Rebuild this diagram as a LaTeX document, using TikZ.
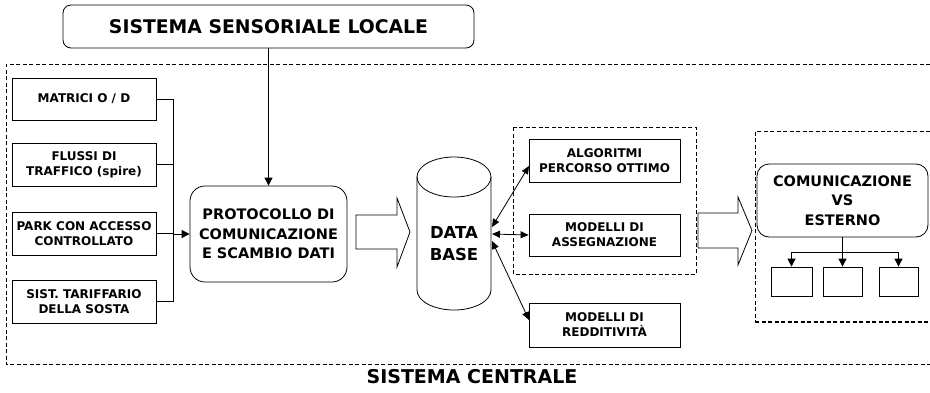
\documentclass[tikz,border=0pt]{standalone}
\usepackage{fontspec}
\setmainfont{DejaVu Sans}
\usetikzlibrary{arrows.meta}
\begin{document}
\begin{tikzpicture}[x=1pt,y=-1pt,
  line width=0.8pt,
  tip/.style={-{Triangle[length=8pt,width=8pt]}},
  dtip/.style={{Triangle[length=8pt,width=7pt]}-{Triangle[length=8pt,width=7pt]}},
  sbox/.style={draw, inner sep=0pt, align=center, font=\fontsize{12}{15}\selectfont\bfseries},
  rbox/.style={draw, rounded corners=13pt, inner sep=0pt, align=center, font=\fontsize{14.5}{19.5}\selectfont\bfseries},
  dashbox/.style={dash pattern=on 4pt off 2.5pt, line width=0.8pt},
  blockarrow/.style={draw, line width=0.8pt, fill=white}]
\useasboundingbox (0,0) rectangle (930,392);

% top box
\node[draw, rounded corners=8pt, minimum width=411pt, minimum height=43pt, inner sep=0pt,
  font=\fontsize{18.8}{22}\selectfont\bfseries] (ssl) at (268.5,26.5) {SISTEMA SENSORIALE LOCALE};

% outer dashed frame (open on the right)
\draw[dashbox] (930,64) -- (6,64) -- (6,364) -- (930,364);

% left boxes
\node[sbox, minimum width=144pt, minimum height=42pt] (mat) at (84,99) {MATRICI O / D};
\node[sbox, minimum width=144pt, minimum height=43pt] (flu) at (84,164.5) {FLUSSI DI\\TRAFFICO (spire)};
\node[sbox, minimum width=144pt, minimum height=43pt] (park) at (84,233.5) {PARK CON ACCESSO\\CONTROLLATO};
\node[sbox, minimum width=144pt, minimum height=43pt] (sist) at (84,301.5) {SIST. TARIFFARIO\\DELLA SOSTA};

% protocol box
\node[rbox, rounded corners=15pt, minimum width=157pt, minimum height=96pt] (prot) at (268.5,234)
  {PROTOCOLLO DI\\COMUNICAZIONE\\E SCAMBIO DATI};

% bus
\coordinate (bt) at (173,99);
\coordinate (bb) at (173,301.5);
\coordinate (bm) at (173,234);
\draw (mat.east) -- (bt) -- (bb) -- (sist.east);
\draw (flu.east) -- (flu.east -| bt);
\draw (park.east) -- (park.east -| bt);
\draw[tip] (bm) -- (prot.west);

% arrow from top
\draw[tip] (ssl.south) -- (prot.north);

% block arrow 1
\draw[blockarrow] (356,215) -- (397,215) -- (397,198) -- (410,232) -- (397,267) -- (397,249) -- (356,249) -- cycle;

% cylinder
\draw (417,177) -- (417,290) arc[start angle=180, end angle=360, x radius=37pt, y radius=20pt] -- (491,177);
\draw (454,177) ellipse [x radius=37pt, y radius=20pt];
\node[align=center, inner sep=0pt, font=\fontsize{16.5}{22}\selectfont\bfseries] (db) at (454,244) {DATA\\BASE};
\coordinate (db1) at (492,227);
\coordinate (db2) at (492,234);
\coordinate (db3) at (492,241);

% middle dashed box
\draw[dashbox] (513,127) rectangle (696,274);

% middle boxes
\node[sbox, minimum width=151pt, minimum height=43pt] (alg) at (604.5,160.5) {ALGORITMI\\PERCORSO OTTIMO};
\node[sbox, minimum width=151pt, minimum height=42pt] (ass) at (604.5,235) {MODELLI DI\\ASSEGNAZIONE};
\node[sbox, minimum width=151pt, minimum height=44pt] (red) at (604.5,325) {MODELLI DI\\REDDITIVITÀ};

\coordinate (a1) at (529,166);
\coordinate (a3) at (529,320);
\draw[dtip] (db1) -- (a1);
\draw[dtip] (db2) -- (ass.west);
\draw[dtip] (db3) -- (a3);

% block arrow 2
\draw[blockarrow] (698,213) -- (738,213) -- (738,197) -- (752,230.5) -- (738,265) -- (738,248) -- (698,248) -- cycle;

% right dashed box (open on the right)
\draw[dashbox] (930,131) -- (755,131) -- (755,322);
\draw[dashbox, line width=1.4pt] (755,322) -- (930,322);

% communication box
\node[rbox, rounded corners=12pt, minimum width=171pt, minimum height=73pt] (com) at (842.5,200.5)
  {COMUNICAZIONE\\VS\\ESTERNO};

% small boxes
\node[draw, inner sep=0pt, minimum width=41pt, minimum height=29pt] (s1) at (791.5,281.5) {};
\node[draw, inner sep=0pt, minimum width=39pt, minimum height=29pt] (s2) at (842.5,281.5) {};
\node[draw, inner sep=0pt, minimum width=39pt, minimum height=29pt] (s3) at (898.5,281.5) {};

\coordinate (tj) at (842.5,252);
\draw[tip] (com.south) -- (s2.north);
\draw[tip] (tj) -| (s1.north);
\draw[tip] (tj) -| (s3.north);

% bottom label
\node[inner sep=0pt, font=\fontsize{19}{22}\selectfont\bfseries] (sc) at (472,377) {SISTEMA CENTRALE};
\end{tikzpicture}
\end{document}
